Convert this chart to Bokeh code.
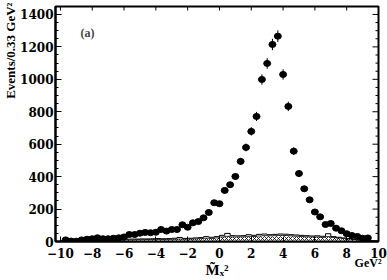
from math import pi
from bokeh.plotting import figure
from bokeh.models import Range1d, SingleIntervalTicker, Label, Title
from bokeh.embed import file_html
from bokeh.resources import INLINE

# ---- data ----
x_points = [-9.67, -9.33, -9.00, -8.67, -8.33, -8.00, -7.67, -7.33, -7.00, -6.67,
            -6.33, -6.00, -5.67, -5.33, -5.00, -4.67, -4.33, -4.00, -3.67, -3.33,
            -3.00, -2.67, -2.33, -2.00, -1.67, -1.33, -1.00, -0.67, -0.33, 0.00,
            0.33, 0.67, 1.00, 1.33, 1.67, 2.00, 2.33, 2.67, 3.00, 3.33,
            3.67, 4.00, 4.33, 4.67, 5.00, 5.33, 5.67, 6.00, 6.33, 6.67,
            7.00, 7.33, 7.67, 8.00, 8.33, 8.67, 9.00, 9.33]
events = [10, 3, 2, 10, 14, 17, 23, 17, 17, 20,
          23, 28, 43, 43, 51, 56, 54, 57, 74, 64,
          74, 74, 103, 88, 115, 123, 146, 179, 239, 233,
          315, 350, 401, 494, 580, 679, 771, 999, 1098, 1215,
          1266, 1030, 833, 557, 419, 325, 257, 182, 152, 105,
          111, 82, 66, 48, 37, 31, 20, 22]
errors = [3, 2, 1, 3, 4, 4, 5, 4, 4, 4,
          5, 5, 7, 7, 7, 7, 7, 8, 9, 8,
          9, 9, 10, 9, 11, 11, 12, 13, 15, 15,
          18, 19, 20, 22, 24, 26, 28, 32, 33, 35,
          36, 32, 29, 24, 20, 18, 16, 13, 12, 10,
          11, 9, 8, 7, 6, 6, 4, 5]

bin_edges = [-10.00, -9.67, -9.33, -9.00, -8.67, -8.33, -8.00, -7.67, -7.33, -7.00,
             -6.67, -6.33, -6.00, -5.67, -5.33, -5.00, -4.67, -4.33, -4.00, -3.67,
             -3.33, -3.00, -2.67, -2.33, -2.00, -1.67, -1.33, -1.00, -0.67, -0.33,
             0.00, 0.33, 0.67, 1.00, 1.33, 1.67, 2.00, 2.33, 2.67, 3.00,
             3.33, 3.67, 4.00, 4.33, 4.67, 5.00, 5.33, 5.67, 6.00, 6.33,
             6.67, 7.00, 7.33, 7.67, 8.00, 8.33, 8.67, 9.00, 9.33, 9.67, 10.00]
background_open = [5, 5, 4, 5, 6, 7, 8, 9, 10, 10,
                   12, 12, 14, 15, 15, 16, 16, 17, 18, 17,
                   18, 20, 25, 19, 20, 22, 24, 30, 26, 30,
                   38, 50, 36, 35, 36, 42, 38, 44, 46, 42,
                   44, 46, 45, 42, 40, 38, 36, 34, 35, 32,
                   48, 30, 26, 22, 18, 14, 10, 7, 5, 3]
background_hatched = [4, 4, 3, 4, 5, 5, 6, 6, 7, 7,
                      8, 8, 10, 10, 11, 11, 12, 12, 13, 12,
                      13, 14, 15, 14, 15, 16, 18, 20, 19, 22,
                      28, 32, 28, 28, 29, 32, 31, 34, 36, 35,
                      36, 38, 37, 35, 33, 31, 29, 28, 28, 26,
                      30, 24, 21, 18, 15, 12, 9, 6, 4, 2]

x_major_ticks = [-10, -8, -6, -4, -2, 0, 2, 4, 6, 8, 10]
y_major_ticks = [0, 200, 400, 600, 800, 1000, 1200, 1400]
y_minor_step = 50

x_lo, x_hi = -10.31, 10.0
y_lo, y_hi = 0, 1449

# ---- figure ----
p = figure(width=387, height=280,
           x_range=Range1d(x_lo, x_hi), y_range=Range1d(y_lo, y_hi),
           output_backend="svg", toolbar_location=None,
           min_border_left=55, min_border_right=9,
           min_border_top=6, min_border_bottom=39)
p.xgrid.visible = False
p.ygrid.visible = False
p.outline_line_color = "black"
p.outline_line_width = 2
p.background_fill_color = "white"
p.border_fill_color = "white"

tick_font = "DejaVu Serif"
serif = "Liberation Serif"

# bottom axis
xa = p.xaxis[0]
xa.ticker = SingleIntervalTicker(interval=2, num_minor_ticks=2)
xa.axis_line_width = 2
xa.major_tick_in = 5
xa.major_tick_out = 0
xa.minor_tick_line_color = None
xa.major_label_standoff = 2
xa.major_label_text_font = tick_font
xa.major_label_text_font_style = "bold"
xa.major_label_text_font_size = "12px"
xa.major_label_text_color = "black"
xa.axis_label = "M\u0303\u2093\u00b2"
xa.axis_label_text_font = serif
xa.axis_label_text_font_style = "bold"
xa.axis_label_text_font_size = "15px"
xa.axis_label_text_color = "black"
xa.axis_label_standoff = 1

# left axis
ya = p.yaxis[0]
ya.ticker = SingleIntervalTicker(interval=200, num_minor_ticks=4)
ya.axis_line_width = 2
ya.major_tick_in = 6
ya.major_tick_out = 0
ya.minor_tick_in = 3
ya.minor_tick_out = 0
ya.major_label_standoff = 2
ya.major_label_text_font = tick_font
ya.major_label_text_font_style = "bold"
ya.major_label_text_font_size = "12px"
ya.major_label_text_color = "black"

# y-axis title, placed at the top end of the axis
p.add_layout(Title(text="Events/0.33 GeV\u00b2", align="right", offset=-4, standoff=0,
                   vertical_align="bottom", text_font=serif, text_font_style="bold",
                   text_font_size="13px", text_color="black"), "left")

# unit of the x axis, at the lower right corner
p.add_layout(Title(text="GeV\u00b2", align="right", offset=-3, standoff=-50,
                   vertical_align="top", text_font=serif, text_font_style="bold",
                   text_font_size="12px", text_color="black"), "below")

# inward ticks on the right and top edges of the frame
y_minor_ticks = [v for v in range(y_minor_step, y_hi, y_minor_step) if v not in y_major_ticks]
p.ray(x=[x_hi] * len(y_major_ticks), y=y_major_ticks, length=6, length_units="screen",
      angle=pi, line_color="black", line_width=1)
p.ray(x=[x_hi] * len(y_minor_ticks), y=y_minor_ticks, length=3, length_units="screen",
      angle=pi, line_color="black", line_width=1)
p.ray(x=x_major_ticks, y=[y_hi] * len(x_major_ticks), length=4, length_units="screen",
      angle=-pi / 2, line_color="black", line_width=1)

# ---- background histograms ----
p.quad(left=bin_edges[:-1], right=bin_edges[1:], bottom=0, top=background_hatched,
       fill_color="white", line_color=None,
       hatch_pattern="x", hatch_color="black", hatch_scale=4, hatch_weight=0.8)
p.step(x=bin_edges, y=background_hatched + [background_hatched[-1]], mode="after",
       line_color="black", line_width=0.8)
p.step(x=bin_edges, y=background_open + [background_open[-1]], mode="after",
       line_color="black", line_width=1)

# ---- data points with error bars ----
err_lo = [v - e for v, e in zip(events, errors)]
err_hi = [v + e for v, e in zip(events, errors)]
p.segment(x0=x_points, y0=err_lo, x1=x_points, y1=err_hi, line_color="black", line_width=1)
p.ellipse(x=x_points, y=events, width=7, height=6,
          width_units="screen", height_units="screen",
          fill_color="black", line_color="black")

# ---- panel label ----
p.add_layout(Label(x=-8.74, y=1286, text="(a)", text_font=serif, text_font_style="bold",
                   text_font_size="12px", text_align="left", text_baseline="middle"))

open("out.html", "w").write(file_html(p, INLINE))
